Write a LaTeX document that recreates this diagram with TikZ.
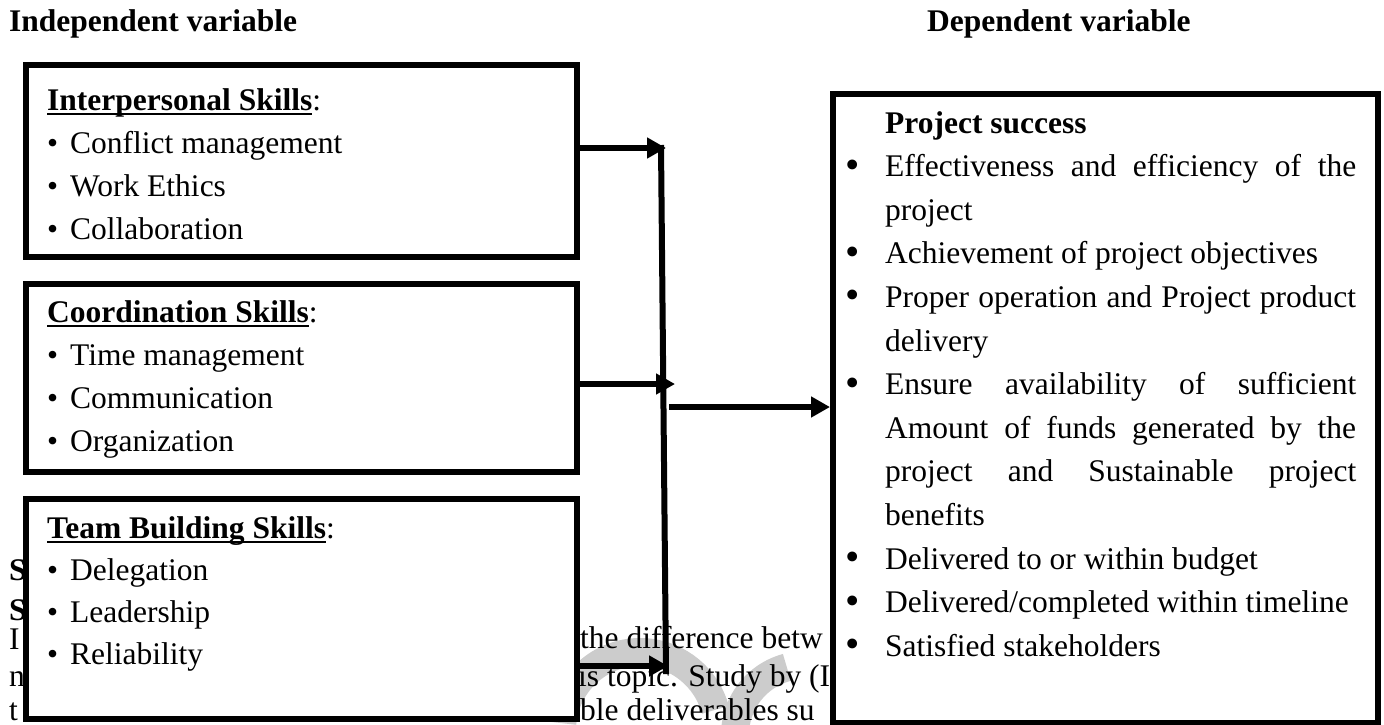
\documentclass[tikz,border=0pt]{standalone}
\usepackage{graphicx}
\usepackage{fontspec}
\setmainfont{Liberation Serif}
\usetikzlibrary{arrows.meta}

\newcommand\myul[1]{\leavevmode\setbox0\hbox{#1}\rlap{\rule[-5pt]{\wd0}{2.4pt}}\box0}
\newcommand\lbul{\makebox[23pt][l]{\textbullet}}
\newcommand\rbul{\makebox[40pt][l]{\raisebox{-1.5pt}{\scalebox{1.3}{\textbullet}}}}
\newcommand\rind{\makebox[40pt][l]{}}
\newcommand\jl[1]{\makebox[471pt][s]{#1}}

\tikzset{
  frame/.style={draw=black, line width=6pt, fill=white, inner sep=0pt, anchor=north west},
  txt/.style={inner sep=0pt, anchor=base west},
  conn/.style={line width=6pt, -{Triangle[length=19pt,width=20pt]}},
  vline/.style={line width=6pt},
  wm/.style={line width=28pt, draw=black!20},
  bg/.style={inner sep=0pt, anchor=base west},
}

\begin{document}
\begin{tikzpicture}[x=1pt,y=-1pt, font=\fontsize{31.5}{43}\selectfont]
\useasboundingbox (0,0) rectangle (1384,724);

% watermark (behind everything)
\draw[wm] (640,730) ++(185:78) arc[start angle=185, end angle=345, radius=78];
\draw[wm] (805,735) ++(255:70) arc[start angle=255, end angle=135, radius=70];

% page text showing behind the figure
\node[bg, font=\fontsize{31.5}{43}\selectfont\bfseries] (s1) at (9,580) {S};
\node[bg, font=\fontsize{31.5}{43}\selectfont\bfseries] (s2) at (9,620) {S};
\node[bg] (s3) at (9,649) {I};
\node[bg] (s4) at (9,686) {n};
\node[bg] (s5) at (9,720) {t};
\node[bg] (f1) at (580,648) {the difference betw};
\node[bg] (f2) at (578,686) {is topic. Study by (I};
\node[bg] (f3) at (580,720) {ble deliverables su};

% titles
\node[txt, font=\fontsize{31.5}{43}\selectfont\bfseries] (iv) at (9,31) {Independent variable};
\node[txt, font=\fontsize{31.5}{43}\selectfont\bfseries] (dv) at (927,31) {Dependent variable};

% boxes
\node[frame, minimum width=551pt, minimum height=192pt] (b1) at (23,62) {};
\node[frame, minimum width=551pt, minimum height=188pt] (b2) at (23,281) {};
\node[frame, minimum width=551pt, minimum height=220pt] (b3) at (23,496) {};
\node[frame, minimum width=545pt, minimum height=629pt] (b4) at (830,91) {};

% box texts
\node[txt] (t1) at (47,110) {\parbox[t]{500pt}{\raggedright\fontsize{31.5}{43}\selectfont
  \myul{\textbf{Interpersonal Skills}}:\\
  \lbul Conflict management\\
  \lbul Work Ethics\\
  \lbul Collaboration}};
\node[txt] (t2) at (47,322) {\parbox[t]{500pt}{\raggedright\fontsize{31.5}{43}\selectfont
  \myul{\textbf{Coordination Skills}}:\\
  \lbul Time management\\
  \lbul Communication\\
  \lbul Organization}};
\node[txt] (t3) at (47,538) {\parbox[t]{500pt}{\raggedright\fontsize{31.5}{42}\selectfont
  \myul{\textbf{Team Building Skills}}:\\
  \lbul Delegation\\
  \lbul Leadership\\
  \lbul Reliability}};
\node[txt] (t4) at (845,133) {\parbox[t]{515pt}{\raggedright\fontsize{31.5}{43.6}\selectfont
  \rind\textbf{Project success}\\
  \rbul\jl{Effectiveness and efficiency of the}\\
  \rind project\\
  \rbul Achievement of project objectives\\
  \rbul\jl{Proper operation and Project product}\\
  \rind delivery\\
  \rbul\jl{Ensure availability of sufficient}\\
  \rind\jl{Amount of funds generated by the}\\
  \rind\jl{project and Sustainable project}\\
  \rind benefits\\
  \rbul Delivered to or within budget\\
  \rbul Delivered/completed within timeline\\
  \rbul Satisfied stakeholders}};

% connectors
\coordinate (vt) at (661,145);
\coordinate (vb) at (666,674);
\coordinate (j1) at (666,148);
\coordinate (j2) at (675,384);
\coordinate (j3) at (668,666);
\coordinate (o1) at (669,407);
\draw[vline] (vt) -- (vb);
\draw[conn] (j1 -| b1.east) -- (j1);
\draw[conn] (j2 -| b2.east) -- (j2);
\draw[conn] (j3 -| b3.east) -- (j3);
\draw[conn] (o1) -- (o1 -| b4.west);
\end{tikzpicture}
\end{document}
